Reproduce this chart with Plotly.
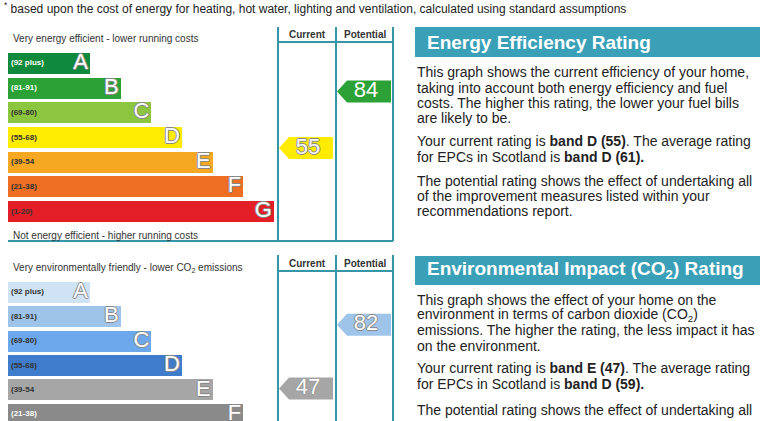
import plotly.graph_objects as go

W, H = 768, 421

# ---------------- data ----------------
bands = ["A", "B", "C", "D", "E", "F", "G"]
band_ranges = ["(92 plus)", "(81-91)", "(69-80)", "(55-68)", "(39-54", "(21-38)", "(1-20)"]
band_lo = [92, 81, 69, 55, 39, 21, 1]
band_hi = [100, 91, 80, 68, 54, 38, 20]

ee_current, ee_potential = 55, 84
co2_current, co2_potential = 47, 82

footnote = ("<sup>*</sup> based upon the cost of energy for heating, hot water, lighting and "
            "ventilation, calculated using standard assumptions")
ee_title = "Energy Efficiency Rating"
co2_title = "Environmental Impact (CO<sub>2</sub>) Rating"
ee_lines = [
    "This graph shows the current efficiency of your home,",
    "taking into account both energy efficiency and fuel",
    "costs. The higher this rating, the lower your fuel bills",
    "are likely to be.",
    "Your current rating is <b>band D (55)</b>. The average rating",
    "for EPCs in Scotland is <b>band D (61).</b>",
    "The potential rating shows the effect of undertaking all",
    "of the improvement measures listed within your",
    "recommendations report.",
]
co2_lines = [
    "This graph shows the effect of your home on the",
    "environment in terms of carbon dioxide (CO<sub>2</sub>)",
    "emissions. The higher the rating, the less impact it has",
    "on the environment.",
    "Your current rating is <b>band E (47)</b>. The average rating",
    "for EPCs in Scotland is <b>band D (59).</b>",
    "The potential rating shows the effect of undertaking all",
]

# ---------------- styles ----------------
ee_colors = ["#0f8a3c", "#2ba136", "#8cc63f", "#ffec00", "#f7a823", "#ee6e23", "#e31e26"]
co2_colors = ["#cfe3f5", "#9ec4ea", "#6ea8ec", "#3f7dcc", "#a6a6a6", "#8a8a8a", "#6e6e6e"]
ee_label_col = ["white", "white", "#333", "#333", "#333", "#333", "#333"]
co2_label_col = ["#333", "#333", "#333", "#333", "#333", "white", "white"]
TEAL = "#3aa0b7"
LINE = "#3795a8"
TXT = "#222222"
FONT = "Liberation Sans, Arial"
OUTLINE = "-1px 0 #888, 1px 0 #888, 0 -1px #888, 0 1px #888"

BAR_X0 = 8
BAR_W0 = 82
BAR_STEP = 30.65

def px(x):
    return x / W

def py(y):
    return 1 - y / H

top = dict(yA=63.5, pitch=24.67)
bot = dict(yA=292.5, pitch=24.4)

def domain_for(yA, pitch, bottom_limit=None):
    top_px = yA - 0.5 * pitch
    bottom_px = yA + 6.5 * pitch
    rng_bottom = 6.5
    if bottom_limit is not None and bottom_px > bottom_limit:
        rng_bottom = (bottom_limit - yA) / pitch
        bottom_px = bottom_limit
    return [py(bottom_px), py(top_px)], [rng_bottom, -0.5]

dom1, rng1 = domain_for(top["yA"], top["pitch"])
dom2, rng2 = domain_for(bot["yA"], bot["pitch"], H)

fig = go.Figure()

def value_pos(v):
    for i, (lo, hi) in enumerate(zip(band_lo, band_hi)):
        if lo <= v <= hi:
            return i - 0.5 + (hi - v) / (hi - lo + 1)
    return 6

def band_of(v):
    for i, (lo, hi) in enumerate(zip(band_lo, band_hi)):
        if lo <= v <= hi:
            return i
    return 6

def add_chart(yref, colors, label_cols, pitch, current, potential, cur_shadow, pot_shadow):
    idx = list(range(len(bands)))
    lengths = [BAR_W0 + BAR_STEP * i for i in idx]
    ends = [BAR_X0 + l for l in lengths]
    fig.add_trace(go.Bar(
        orientation="h", y=idx, x=lengths, base=BAR_X0, width=21 / pitch,
        marker=dict(color=colors, line=dict(width=0)), yaxis=yref, xaxis="x",
        hoverinfo="skip"))
    for i in idx:
        fig.add_trace(go.Scatter(
            x=[BAR_X0 + 3], y=[i], mode="text", text=[band_ranges[i]],
            textposition="middle right", yaxis=yref, xaxis="x", hoverinfo="skip",
            textfont=dict(family=FONT, size=8, color=label_cols[i], weight="bold")))
    fig.add_trace(go.Scatter(
        x=[e - 2 for e in ends], y=idx, mode="text", text=bands,
        textposition="middle left", yaxis=yref, xaxis="x", hoverinfo="skip",
        textfont=dict(family=FONT, size=22, color="white", shadow=OUTLINE)))
    h = 22 / pitch
    for val, x_tip, shd in [(current, 279, cur_shadow), (potential, 337, pot_shadow)]:
        col = colors[band_of(val)]
        yv = value_pos(val)
        right = x_tip + 54
        xs = [x_tip, x_tip + 10, right, right, x_tip + 10, x_tip]
        ys = [yv, yv - h / 2, yv - h / 2, yv + h / 2, yv + h / 2, yv]
        fig.add_trace(go.Scatter(x=xs, y=ys, fill="toself", fillcolor=col, mode="lines",
                                 line=dict(width=0, color=col), yaxis=yref, xaxis="x",
                                 hoverinfo="skip"))
        fig.add_trace(go.Scatter(x=[x_tip + 29], y=[yv], mode="text", text=[str(val)],
                                 textposition="middle center", yaxis=yref, xaxis="x",
                                 hoverinfo="skip",
                                 textfont=dict(family=FONT, size=22, color="white", shadow=shd)))

add_chart("y", ee_colors, ee_label_col, top["pitch"], ee_current, ee_potential, OUTLINE, "none")
add_chart("y2", co2_colors, co2_label_col, bot["pitch"], co2_current, co2_potential,
          "0 0 1px #666", OUTLINE)

shapes = []
for (ytop, yhead, ybot) in [(27, 42, 241), (255, 271, H + 5)]:
    for xv in [278, 336, 393]:
        shapes.append(dict(type="line", xref="paper", yref="paper", x0=px(xv), x1=px(xv),
                           y0=py(ytop), y1=py(ybot), line=dict(color=LINE, width=2)))
    shapes.append(dict(type="line", xref="paper", yref="paper", x0=px(278), x1=px(393),
                       y0=py(yhead), y1=py(yhead), line=dict(color=LINE, width=2)))
shapes.append(dict(type="line", xref="paper", yref="paper", x0=px(8), x1=px(393),
                   y0=py(241), y1=py(241), line=dict(color=LINE, width=2)))
for (y0, y1) in [(27, 57), (256, 285)]:
    shapes.append(dict(type="rect", xref="paper", yref="paper", x0=px(415), x1=px(760),
                       y0=py(y1), y1=py(y0), fillcolor=TEAL, line=dict(width=0), layer="below"))

ann = []
def text(x, y, s, size, color=TXT, bold=False, anchor="left"):
    ann.append(dict(xref="paper", yref="paper", x=px(x), y=py(y), text=s, showarrow=False,
                    xanchor=anchor, yanchor="middle",
                    font=dict(family=FONT, size=size, color=color,
                              weight="bold" if bold else "normal")))

text(2, 8, footnote, 12)
text(11, 39, "Very energy efficient - lower running costs", 10, "#333")
text(11, 235, "Not energy efficient - higher running costs", 10, "#333")
text(11, 268, "Very environmentally friendly - lower CO<sub>2</sub> emissions", 10, "#333")
for y in [34, 263]:
    text(307, y, "Current", 10, "#333", True, "center")
    text(365, y, "Potential", 10, "#333", True, "center")
text(425, 42, ee_title, 19, "white", True)
text(425, 270, co2_title, 19, "white", True)

ee_y = [72, 88, 103, 118, 141, 157, 181, 196, 211]
co2_y = [300, 315, 330, 346, 368, 384, 410]
for s, y in zip(ee_lines, ee_y):
    text(415, y, s, 14)
for s, y in zip(co2_lines, co2_y):
    text(415, y, s, 14)

fig.update_layout(
    width=W, height=H, margin=dict(l=0, r=0, t=0, b=0),
    paper_bgcolor="white", plot_bgcolor="white", showlegend=False,
    xaxis=dict(range=[0, W], domain=[0, 1], visible=False, fixedrange=True),
    yaxis=dict(range=rng1, domain=dom1, visible=False, fixedrange=True),
    yaxis2=dict(range=rng2, domain=dom2, visible=False, fixedrange=True, anchor="x"),
    shapes=shapes, annotations=ann, bargap=0,
)

fig.write_html("out.html", config={"displayModeBar": False})
